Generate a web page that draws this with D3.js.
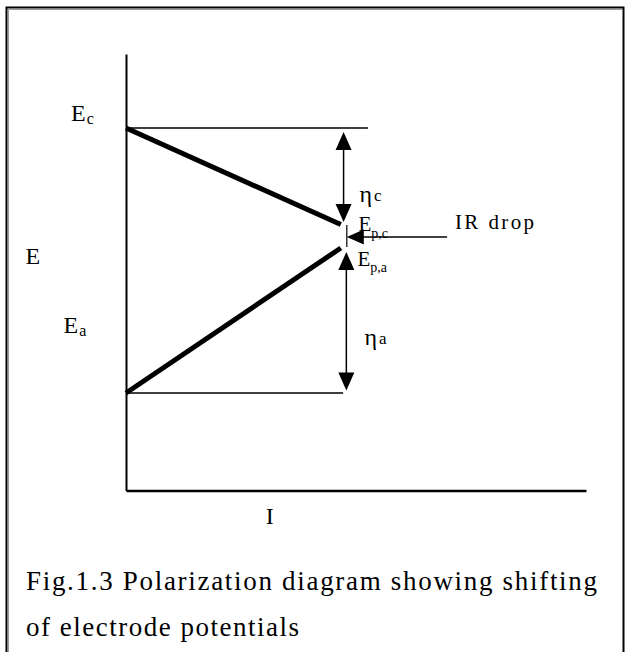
<!DOCTYPE html>
<html>
<head>
<meta charset="utf-8">
<script src="https://cdn.jsdelivr.net/npm/d3@7"></script>
<style>
  html, body { margin: 0; padding: 0; background: #fff; }
  svg { display: block; }
  svg text { font-family: "Liberation Serif", "DejaVu Serif", serif; }
</style>
</head>
<body>
<svg id="chart" width="630" height="652"></svg>
<script>
// ---- data (diagram units: I on [0,100], E on [0,100]) ----
const potentialNames = ["Ec", "Ea", "Epc", "Epa"];
const potentialValues = [83.05, 22.35, 60.95, 55.57];
const polarizationCurrent = 46.7;
const refLineEnds = [52.6, 47.2];        // Ec line, Ea line
const overpotentialX = [47.3, 47.9];     // eta_c arrow, eta_a arrow
const irDrop = { from: 69.8, to: 48.0, E: 58.1 };
const axisLabels = ["E", "I"];
const captionLines = ["Fig.1.3 Polarization diagram showing shifting", "of electrode potentials"];

const [Ec, Ea, Epc, Epa] = potentialValues;
const FONT = "Liberation Serif, DejaVu Serif, serif";

const svg = d3.select("#chart");
const x = d3.scaleLinear().domain([0, 100]).range([126, 586]);
const y = d3.scaleLinear().domain([0, 100]).range([490.6, 54]);

// frame
svg.append("rect").attr("x", 6.5).attr("y", 7.5).attr("width", 617).attr("height", 700)
  .attr("fill", "none").attr("stroke", "#000").attr("stroke-width", 2);
svg.append("path").attr("d", "M8.5,660 V9.5 H622")
  .attr("fill", "none").attr("stroke", "#999").attr("stroke-width", 1);

// axes
svg.append("g").attr("transform", `translate(${x(0)},0)`)
  .call(d3.axisLeft(y).ticks(0).tickSizeOuter(0))
  .call(g => g.select(".domain").attr("stroke-width", 2));
svg.append("g").attr("transform", `translate(0,${y(0)})`)
  .call(d3.axisBottom(x).ticks(0).tickSizeOuter(0))
  .call(g => g.select(".domain").attr("stroke-width", 2.5));

const line = d3.line().x(d => x(d[0])).y(d => y(d[1]));

// reference horizontal lines
svg.append("path").attr("d", line([[0, Ec], [refLineEnds[0], Ec]]))
  .attr("stroke", "#000").attr("stroke-width", 1.5).attr("fill", "none");
svg.append("path").attr("d", line([[0, Ea], [refLineEnds[1], Ea]]))
  .attr("stroke", "#000").attr("stroke-width", 1.5).attr("fill", "none");

// polarization curves
svg.append("path").attr("d", line([[0, Ec], [polarizationCurrent, Epc]]))
  .attr("stroke", "#000").attr("stroke-width", 5).attr("fill", "none");
svg.append("path").attr("d", line([[0, Ea], [polarizationCurrent, Epa]]))
  .attr("stroke", "#000").attr("stroke-width", 5).attr("fill", "none");

// arrow helpers
function head(tx, ty, dir, w = 16, l = 18) {
  let p;
  if (dir === "up") p = [[tx, ty], [tx - w / 2, ty + l], [tx + w / 2, ty + l]];
  else if (dir === "down") p = [[tx, ty], [tx - w / 2, ty - l], [tx + w / 2, ty - l]];
  else p = [[tx, ty], [tx + l, ty - w / 2], [tx + l, ty + w / 2]];
  svg.append("path").attr("d", "M" + p.join("L") + "Z").attr("fill", "#000");
}
function vArrow(I, E1, E2) {
  const xx = x(I), y1 = y(E1) + 4, y2 = y(E2) - 2.5;
  svg.append("line").attr("x1", xx).attr("x2", xx).attr("y1", y1 + 5).attr("y2", y2 - 5)
    .attr("stroke", "#000").attr("stroke-width", 1.5);
  head(xx, y1, "up");
  head(xx, y2, "down");
}
vArrow(overpotentialX[0], Ec, Epc);
vArrow(overpotentialX[1], Epa, Ea);

// IR drop arrow
const irY = y(irDrop.E);
svg.append("line").attr("x1", x(irDrop.from)).attr("x2", x(irDrop.to) + 5)
  .attr("y1", irY).attr("y2", irY).attr("stroke", "#000").attr("stroke-width", 1.5);
head(x(irDrop.to), irY, "left", 15, 17);
svg.append("line").attr("x1", x(irDrop.to)).attr("x2", x(irDrop.to))
  .attr("y1", irY - 12).attr("y2", irY + 10).attr("stroke", "#000").attr("stroke-width", 1.2);

// labels
function sub(xp, yp, main, s, size = 24, ssize = 16, sdx = 0, sdy = 5) {
  const t = svg.append("text").attr("x", xp).attr("y", yp)
    .attr("font-family", FONT).attr("font-size", size).attr("fill", "#000");
  t.append("tspan").text(main);
  if (s) t.append("tspan").attr("font-size", ssize).attr("dx", sdx).attr("dy", sdy).text(s);
  return t;
}
sub(71, y(Ec) - 7.5, "E", "c", 24, 16, 1, 3);
sub(63.5, y(Ea) - 60.5, "E", "a", 24, 16, 1, 3);
sub(25.5, 264, axisLabels[0], null, 24);
sub(x(30.4), y(0) + 33.5, axisLabels[1], null, 24);
sub(359.5, 201.5, "η", "c", 24, 17, 2, -1);
sub(364.5, 345, "η", "a", 24, 17, 2, -1);
sub(358.5, 231, "E", "p,c", 21, 14, 0, 7);
sub(357.5, 266, "E", "p,a", 21, 14, 0, 6);
svg.append("text").attr("x", 455).attr("y", 229).attr("font-family", FONT).attr("font-size", 21)
  .attr("textLength", 79).attr("lengthAdjust", "spacing").text("IR drop");

// caption
svg.selectAll("text.cap").data(captionLines).join("text").attr("class", "cap")
  .attr("font-family", FONT)
  .attr("x", 26).attr("y", (d, i) => 590 + i * 46).attr("font-size", 27)
  .attr("textLength", (d, i) => i === 0 ? 571 : 273).attr("lengthAdjust", "spacing")
  .text(d => d);
</script>
</body>
</html>
